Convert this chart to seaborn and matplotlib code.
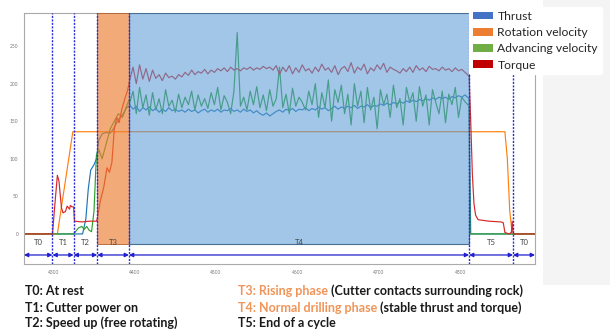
import numpy as np
import pandas as pd
import seaborn as sns
import matplotlib.pyplot as plt
from matplotlib.patches import Patch, Rectangle

# phase boundaries (sample number) and phase names
bounds = [4299, 4325, 4354, 4393, 4811, 4865]
phase_names = ["T0", "T1", "T2", "T3", "T4", "T5", "T0"]
x_range = (4264, 4892)
y_range = (-40, 294)
x_ticks = [4300, 4400, 4500, 4600, 4700, 4800]
y_ticks = [0, 50, 100, 150, 200, 250]

# normal drilling phase (T4), one sample every 4 steps
t4_time = np.arange(4394, 4810, 4)
torque_t4 = [205, 222, 200, 225, 206, 220, 203,
             218, 207, 212, 204, 214, 208, 210, 206, 212,
             209, 215, 211, 218, 212, 216, 214, 219, 213, 218,
             215, 220, 217, 221, 216, 222, 218, 220, 217, 221,
             219, 222, 218, 221, 219, 223, 220, 222, 218, 224,
             212, 222, 216, 224, 213, 221, 215, 225, 217, 220,
             214, 222, 216, 226, 218, 221, 215, 224, 212, 220,
             223, 216, 228, 214, 222, 218, 226, 213, 221, 217,
             225, 219, 227, 215, 222, 219, 217, 214, 220, 216,
             222, 215, 224, 218, 221, 216, 223, 219, 220, 217,
             222, 218, 220, 216, 221, 217, 219, 215]
thrust_t4 = [172, 166, 170, 163, 168, 165, 169,
             164, 167, 162, 166, 163, 168, 164, 166, 163,
             165, 162, 166, 163, 165, 161, 164, 166, 162, 165,
             163, 166, 162, 165, 164, 167, 163, 165, 162, 166,
             163, 165, 161, 164, 160, 158, 161, 157, 160, 163,
             165, 162, 166, 164, 167, 163, 166, 165, 168, 164,
             167, 165, 169, 166, 168, 164, 167, 170, 166, 169,
             167, 170, 168, 171, 167, 170, 169, 172, 168, 171,
             170, 173, 171, 174, 172, 175, 173, 176, 174, 177,
             175, 178, 176, 179, 177, 180, 178, 181, 179, 182,
             180, 182, 179, 183, 181, 184, 182, 185]
advance_t4 = [175, 190, 160, 195, 168, 185, 158,
              188, 165, 180, 160, 192, 170, 178, 162, 186,
              168, 182, 172, 190, 165, 185, 170, 180, 167, 188,
              172, 195, 165, 184, 175, 160, 190, 268, 170, 182,
              165, 190, 172, 196, 168, 185, 164, 192, 170, 180,
              222, 168, 186, 160, 194, 170, 182, 175, 165, 190,
              172, 200, 155, 188, 168, 205, 150, 192, 175, 198,
              160, 186, 145, 200, 170, 190, 148, 195, 165, 182,
              140, 192, 172, 186, 155, 198, 168, 180, 145, 195,
              175, 188, 150, 196, 170, 185, 145, 192, 175, 160,
              190, 148, 186, 172, 195, 155, 182, 176]

# thrust: start-up, T4 and end of cycle
thrust_time = ([4264, 4336, 4340, 4343, 4346, 4350, 4353, 4356, 4360, 4365, 4370,
                4374, 4378, 4382, 4386, 4390, 4393] + list(t4_time) + [4811, 4813, 4892])
thrust_val = ([0, 0, 20, 60, 85, 92, 100, 125, 133, 135, 134,
               140, 148, 155, 160, 168, 170] + thrust_t4 + [180, 0, 0])

# rotation velocity
rotation_time = [4264, 4305, 4324, 4855, 4858, 4861, 4864, 4892]
rotation_val = [0, 0, 136, 136, 100, 30, 0, 0]

# advancing velocity
advance_time = ([4264, 4325, 4328, 4331, 4335, 4338, 4341, 4344, 4347, 4350, 4353,
                 4356, 4360, 4365, 4370, 4375, 4380, 4385, 4390, 4393]
                + list(t4_time) + [4811, 4812, 4892])
advance_val = ([0, 0, 4, 8, 10, 6, 10, 5, 3, 30, 105,
                112, 100, 120, 140, 150, 160, 155, 170, 178]
               + advance_t4 + [170, 0, 0])

# torque
torque_time = ([4264, 4299, 4302, 4305, 4307, 4310, 4312, 4315, 4317, 4320, 4321, 4323,
                4325, 4326, 4335, 4345, 4353, 4354, 4358, 4362, 4366, 4369, 4372, 4375,
                4378, 4381, 4384, 4388, 4391, 4393] + list(t4_time)
               + [4811, 4813, 4815, 4817, 4819, 4822, 4835, 4850, 4853, 4855, 4860,
                  4863, 4864, 4865, 4866, 4892])
torque_val = ([0, 0, 40, 78, 70, 35, 28, 30, 37, 33, 38, 36,
               36, 17, 16, 17, 17, 20, 45, 62, 88, 82, 95, 140,
               155, 148, 165, 180, 190, 200] + torque_t4
              + [210, 150, 80, 40, 25, 19, 17, 16, 15, 2, 0,
                 2, 17, 3, 0, 0])

series_names = ["Thrust", "Rotation velocity", "Advancing velocity", "Torque"]
line_colors = {"Thrust": "#1f77b4", "Rotation velocity": "#ff7f0e",
               "Advancing velocity": "#2ca02c", "Torque": "#d62728"}
legend_colors = ["#4472C4", "#ED7D31", "#70AD47", "#C00000"]

df = pd.concat([
    pd.DataFrame({"time": thrust_time, "value": thrust_val, "series": "Thrust"}),
    pd.DataFrame({"time": rotation_time, "value": rotation_val, "series": "Rotation velocity"}),
    pd.DataFrame({"time": advance_time, "value": advance_val, "series": "Advancing velocity"}),
    pd.DataFrame({"time": torque_time, "value": torque_val, "series": "Torque"}),
], ignore_index=True)

sns.set_style("white")
plt.rcParams['font.family'] = ['Lato', 'DejaVu Sans']

fig = plt.figure(figsize=(6.1, 3.31), dpi=100)
# light grey slide background on the right
fig.add_artist(Rectangle((543 / 610, 46 / 331), 67 / 610, 285 / 331,
                         transform=fig.transFigure, facecolor="#f4f4f4",
                         edgecolor="none", zorder=-1))

ax = fig.add_axes([24 / 610, 1 - 264 / 331, 511 / 610, 251 / 331])
sns.lineplot(data=df, x="time", y="value", hue="series", palette=line_colors,
             sort=False, estimator=None, lw=0.85, legend=False, ax=ax, zorder=2)

# phase shading (drawn over the lines, semi-transparent)
ax.add_patch(Rectangle((bounds[2], -13), bounds[3] - bounds[2], y_range[1] + 13,
                       facecolor=(237 / 255, 125 / 255, 49 / 255, 0.65),
                       edgecolor="#b06030", lw=0.6, zorder=3))
ax.add_patch(Rectangle((bounds[3], -13), bounds[4] - bounds[3], y_range[1] + 13,
                       facecolor=(91 / 255, 155 / 255, 213 / 255, 0.57),
                       edgecolor="#4a6f94", lw=0.8, zorder=3))

# phase boundaries
for b in bounds:
    ax.axvline(b, color="#2a2ad8", ls=(0, (1.5, 1)), lw=1, zorder=4)

# arrows and labels for each phase
edges = [x_range[0]] + bounds + [x_range[1]]
for i, name in enumerate(phase_names):
    a, b = edges[i], edges[i + 1]
    ax.annotate("", xy=(a, -28), xytext=(b, -28),
                arrowprops=dict(arrowstyle="<|-|>", color="#2020d0", lw=0.9,
                                mutation_scale=6, shrinkA=0, shrinkB=0), zorder=5)
    ax.text((a + b) / 2, -11, name, ha="center", va="center", fontsize=5.5,
            color="#444444", zorder=5)

ax.set_xlim(*x_range)
ax.set_ylim(*y_range)
ax.set_xticks(x_ticks)
ax.set_yticks(y_ticks)
ax.set_xlabel("")
ax.set_ylabel("")
ax.tick_params(axis="both", labelsize=3.5, labelcolor="#777777", length=2,
               width=0.5, color="#999999", pad=2)
for s in ax.spines.values():
    s.set_color("#aaaaaa")
    s.set_linewidth(0.8)

handles = [Patch(facecolor=c, edgecolor="none") for c in legend_colors]
fig.legend(handles, series_names, loc="upper left",
           bbox_to_anchor=(469 / 610, 1 - 7 / 331), frameon=True, framealpha=1,
           facecolor="white", edgecolor="white", fontsize=8.7, handlelength=1.65,
           handleheight=0.6, labelspacing=0.44, borderpad=0.3, borderaxespad=0,
           handletextpad=0.4)

# phase descriptions under the chart
orange = "#F0955A"
left_notes = ["T0: At rest", "T1: Cutter power on", "T2: Speed up (free rotating)"]
right_notes = [("T3: Rising phase", " (Cutter contacts surrounding rock)"),
               ("T4: Normal drilling phase", " (stable thrust and torque)"),
               ("T5: End of a cycle", "")]
rows_y = [1 - 291 / 331, 1 - 307.5 / 331, 1 - 323 / 331]
for y, txt in zip(rows_y, left_notes):
    fig.text(25 / 610, y, txt, fontsize=9, fontweight="bold", color="#1a1a1a",
             va="center")
for y, (head, tail) in zip(rows_y, right_notes):
    col = orange if tail else "#1a1a1a"
    t = fig.text(238 / 610, y, head, fontsize=9, fontweight="bold", color=col,
                 va="center")
    if tail:
        ax.annotate(tail, xy=(1, 0), xycoords=t, va="bottom", ha="left",
                    fontsize=9, fontweight="bold", color="#1a1a1a",
                    annotation_clip=False)

fig.savefig("out.png", dpi=100)
